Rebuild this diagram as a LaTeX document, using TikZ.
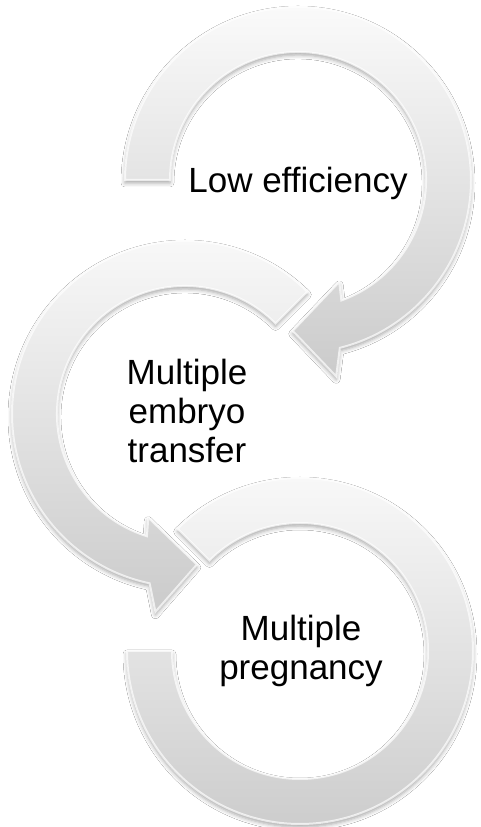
\documentclass[tikz,border=0pt]{standalone}
\usepackage{fontspec}
\setmainfont{Liberation Sans}[Ligatures=NoCommon]
\usetikzlibrary{calc,shadows.blur}
\definecolor{ringtop}{HTML}{FAFAFA}
\definecolor{ringbot}{HTML}{CBCBCB}
\begin{document}
\begin{tikzpicture}[x=1pt,y=1pt,
  ring/.style={top color=ringtop, bottom color=ringbot, draw=white, draw opacity=0.7, line width=2pt,
    blur shadow={shadow xshift=0pt, shadow yshift=-3pt, shadow blur radius=4pt, shadow opacity=35}},
  txt/.style={font=\fontsize{35}{39}\selectfont, align=center, text=black, inner sep=0pt}
]
\useasboundingbox (0,0) rectangle (480,827);
\fill[white] (0,0) rectangle (480,827);

\coordinate (c1) at (298,647);
\coordinate (c2) at (185,413);
\coordinate (c3) at (300,176);

% ring 3 (bottom, no head)
\path[ring] ($(c3)+(135:173)$) arc[start angle=135, end angle=-180, radius=173]
  -- ($(c3)+(180:128)$) arc[start angle=-180, end angle=135, radius=128] -- cycle;

% ring 2 (middle, head at bottom)
\path[ring] ($(c2)+(45:173)$) arc[start angle=45, end angle=258.2, radius=173]
  -- ($(c2)+(261.5:200)$) -- ($(c2)+(274.5:151)$) -- ($(c2)+(250.5:110)$)
  -- ($(c2)+(252.7:128)$) arc[start angle=252.7, end angle=45, radius=128] -- cycle;

% ring 1 (top, head at bottom)
\path[ring] ($(c1)+(180:173)$) arc[start angle=180, end angle=-76, radius=173]
  -- ($(c1)+(-79:200)$) -- ($(c1)+(-92:151)$) -- ($(c1)+(-68:110)$)
  -- ($(c1)+(-70.2:128)$) arc[start angle=-70.2, end angle=180, radius=128] -- cycle;

\node[txt, anchor=base] (t1) at (298,634) {Low efficiency};
\node[txt] (t2) at (187,416) {Multiple\\embryo\\transfer};
\node[txt] (t3) at (301,176) {Multiple\\pregnancy};
\end{tikzpicture}
\end{document}
